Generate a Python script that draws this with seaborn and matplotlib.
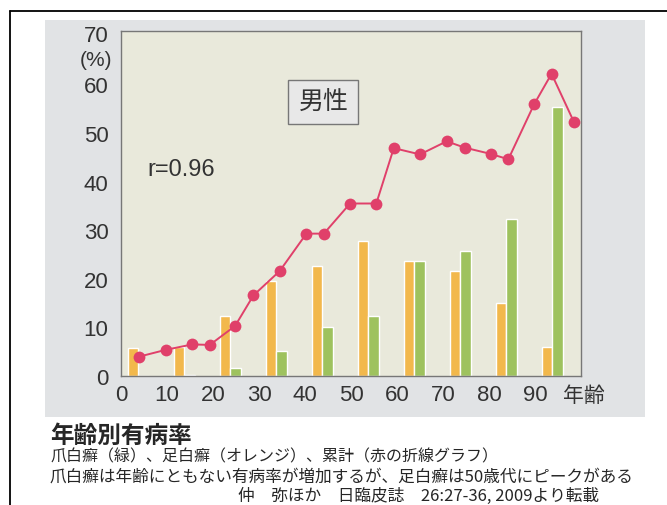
import matplotlib
matplotlib.use('Agg')
import matplotlib.pyplot as plt
from matplotlib.patches import Rectangle
from matplotlib.lines import Line2D
import seaborn as sns

# Data
decades = [0, 10, 20, 30, 40, 50, 60, 70, 80, 90]
foot_tinea = [5.7, 6.0, 12.3, 19.6, 22.7, 27.7, 23.7, 21.6, 15.1, 6.0]   # orange
nail_tinea = [0.0, 0.3, 1.7, 5.1, 10.1, 12.3, 23.6, 25.7, 32.4, 55.4]   # green
total_age = [4.0, 9.8, 15.5, 19.3, 24.8, 28.8, 34.5, 40.3, 44.1, 49.8,
             55.5, 59.3, 65.0, 70.8, 74.7, 80.4, 84.2, 89.8, 93.6, 98.5]
total_rate = [4.0, 5.4, 6.5, 6.4, 10.3, 16.6, 21.6, 29.3, 29.3, 35.5,
              35.5, 46.9, 45.6, 48.3, 47.0, 45.7, 44.6, 55.9, 62.2, 52.2]
yticks = [0, 10, 20, 30, 40, 50, 60, 70]

caption_title = '年齢別有病率'
caption_lines = ['爪白癬（緑）、足白癬（オレンジ）、累計（赤の折線グラフ）',
                 '爪白癬は年齢にともない有病率が増加するが、足白癬は50歳代にピークがある']
source = '仲　弥ほか　日臨皮誌　26:27-36, 2009より転載'

sns.set_style('white')
plt.rcParams['font.family'] = ['Liberation Sans', 'Noto Sans CJK JP']

W, H = 667, 506
fig = plt.figure(figsize=(W / 100, H / 100), dpi=100)
fig.patch.set_facecolor('white')

# gray panel behind the chart + outer frame
fig.add_artist(Rectangle((45 / W, 1 - 418 / H), (645 - 45) / W, (418 - 21) / H,
                         transform=fig.transFigure, facecolor='#e1e3e5',
                         edgecolor='none', zorder=0))
fig.add_artist(Line2D([10 / W, 1], [1 - 12 / H, 1 - 12 / H], color='black', lw=1.3))
fig.add_artist(Line2D([10 / W, 10 / W], [0, 1 - 12 / H], color='black', lw=1.3))

ax = fig.add_axes([121 / W, 1 - 377 / H, (581 - 121) / W, (377 - 32) / H])
ax.set_facecolor('#e9e9db')

# bars (orange left, green right within each decade)
sns.barplot(x=[d + 2.6 for d in decades], y=foot_tinea, native_scale=True,
            width=0.22, color='#f2b84c', saturation=1, errorbar=None, ax=ax)
sns.barplot(x=[d + 4.9 for d in decades], y=nail_tinea, native_scale=True,
            width=0.22, color='#9ec25e', saturation=1, errorbar=None, ax=ax)

# cumulative line
sns.lineplot(x=total_age, y=total_rate, color='#e0406a', marker='o',
             markersize=8.5, markeredgewidth=0, linewidth=1.4, ax=ax, zorder=5)

ax.set_xlim(0, 100)
ax.set_ylim(0, 71)
ax.set_xticks(decades)
ax.set_xticklabels([str(d) for d in decades])
ax.set_yticks(yticks)
ax.set_yticklabels([str(v) if v != 70 else '' for v in yticks])
ax.tick_params(direction='in', length=4, width=1, color='#777777',
               labelsize=16, labelcolor='#333333')
ax.tick_params(axis='y', pad=9)
ax.tick_params(axis='x', pad=6)
for s in ax.spines.values():
    s.set_color('#777777')
    s.set_linewidth(1)
ax.set_xlabel('')
ax.set_ylabel('')

# axis annotations
fig.text(96 / W, 1 - 36 / H, '70', ha='center', va='center', fontsize=16, color='#333333')
fig.text(96 / W, 1 - 60 / H, '(%)', ha='center', va='center', fontsize=15, color='#333333')
fig.text(584 / W, 1 - 396 / H, '年齢', ha='center', va='center', fontsize=15,
         color='#333333')

ax.text(0.058, 0.6, 'r=0.96', transform=ax.transAxes, fontsize=17, color='#333333',
        va='center', ha='left')
ax.text(0.44, 0.795, '男性', transform=ax.transAxes, fontsize=18, color='#333333',
        va='center', ha='center',
        bbox=dict(boxstyle='square,pad=0.4', facecolor='#e8e8e8', edgecolor='#777777'))

# caption
fig.text(50 / W, 1 - 436 / H, caption_title, fontsize=17, fontweight='bold',
         va='center', ha='left', family=['Noto Sans CJK JP'])
fig.text(50 / W, 1 - 457 / H, caption_lines[0], fontsize=11.5, va='center', ha='left',
         family=['Noto Sans CJK JP'])
fig.text(50 / W, 1 - 477 / H, caption_lines[1], fontsize=12, va='center', ha='left',
         family=['Noto Sans CJK JP'])
fig.text(238 / W, 1 - 496 / H, source, fontsize=12, va='center', ha='left',
         family=['Noto Sans CJK JP'])

fig.savefig('out.png', dpi=100)
